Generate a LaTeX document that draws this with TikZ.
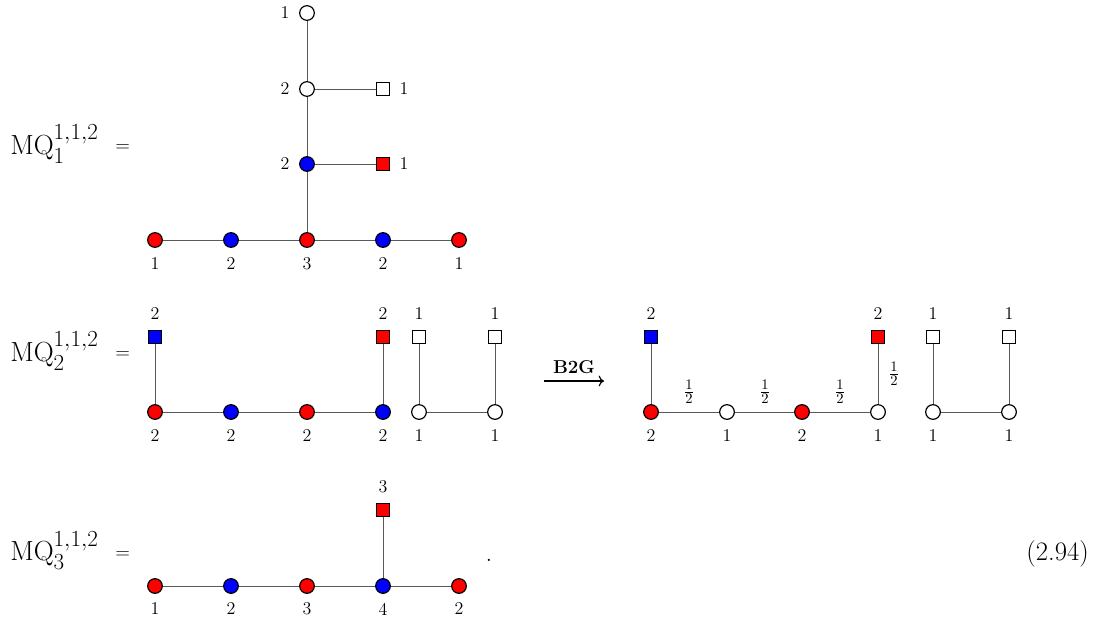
\documentclass[tikz,border=0pt]{standalone}
\usepackage{amsmath}
\usetikzlibrary{arrows.meta}
\DeclareMathSizes{22}{22}{17}{12}
\begin{document}
\begin{tikzpicture}[x=0.75pt,y=-0.75pt,
 rc/.style={circle,draw,line width=0.9pt,fill=red,minimum size=11pt,inner sep=0pt},
 bc/.style={rc,fill=blue},
 wc/.style={rc,fill=white},
 rs/.style={rectangle,draw,line width=0.9pt,fill=red,minimum size=9.5pt,inner sep=0pt},
 bs/.style={rs,fill=blue},
 ws/.style={rs,fill=white},
 lab/.style={font=\fontsize{13.5}{16}\selectfont,inner sep=0pt},
 frac/.style={font=\fontsize{15.5}{18}\selectfont,inner sep=0pt},
 ed/.style={draw=black!65,line width=0.7pt},
 eqlab/.style={font=\fontsize{22}{26}\selectfont,inner sep=0pt,anchor=base west},
 eqsign/.style={font=\fontsize{14.5}{17}\selectfont,inner sep=0pt,anchor=base west},
]
\useasboundingbox (0,0) rectangle (1102,621);

% ---------- MQ1 ----------
\node[eqlab] (t1) at (10,154) {$\mathrm{MQ}^{1,1,2}_{1}$};
\node[eqsign] (s1) at (115,151) {$=$};
\node[rc] (a1) at (155,240) {};
\node[bc] (a2) at (231,240) {};
\node[rc] (a3) at (307,240) {};
\node[bc] (a4) at (383,240) {};
\node[rc] (a5) at (459,240) {};
\node[bc] (a6) at (307,164) {};
\node[wc] (a7) at (307,89) {};
\node[wc] (a8) at (307,13) {};
\node[rs] (a9) at (383,164) {};
\node[ws] (a10) at (383,89) {};
\draw[ed] (a1)--(a2) (a2)--(a3) (a3)--(a4) (a4)--(a5) (a3)--(a6) (a6)--(a7) (a7)--(a8) (a6)--(a9) (a7)--(a10);
\node[lab] (la1) at (155,264) {1};
\node[lab] (la2) at (231,264) {2};
\node[lab] (la3) at (307,264) {3};
\node[lab] (la4) at (383,264) {2};
\node[lab] (la5) at (459,264) {1};
\node[lab] (la6) at (285,164) {2};
\node[lab] (la7) at (285,89) {2};
\node[lab] (la8) at (285,13) {1};
\node[lab] (la9) at (404,164) {1};
\node[lab] (la10) at (404,89) {1};

% ---------- MQ2 ----------
\node[eqlab] (t2) at (10,361) {$\mathrm{MQ}^{1,1,2}_{2}$};
\node[eqsign] (s2) at (115,358) {$=$};
\node[rc] (b1) at (155,412) {};
\node[bc] (b2) at (231,412) {};
\node[rc] (b3) at (307,412) {};
\node[bc] (b4) at (383,412) {};
\node[bs] (b5) at (155,337) {};
\node[rs] (b6) at (383,337) {};
\node[wc] (b7) at (419,412) {};
\node[ws] (b8) at (419,337) {};
\node[wc] (b9) at (495,412) {};
\node[ws] (b10) at (495,337) {};
\draw[ed] (b1)--(b2) (b2)--(b3) (b3)--(b4) (b1)--(b5) (b4)--(b6) (b7)--(b8) (b7)--(b9) (b9)--(b10);
\node[lab] (lb1) at (155,436) {2};
\node[lab] (lb2) at (231,436) {2};
\node[lab] (lb3) at (307,436) {2};
\node[lab] (lb4) at (383,436) {2};
\node[lab] (lb5) at (155,314) {2};
\node[lab] (lb6) at (383,314) {2};
\node[lab] (lb7) at (419,436) {1};
\node[lab] (lb8) at (419,314) {1};
\node[lab] (lb9) at (495,436) {1};
\node[lab] (lb10) at (495,314) {1};

% arrow
\coordinate (arA) at (544,381);
\coordinate (arB) at (604,381);
\draw[line width=0.9pt,-{To[length=4pt,width=8pt]}] (arA) -- (arB) node[midway,above=5pt,inner sep=0pt,font=\fontsize{14}{16}\selectfont\bfseries] (b2g) {B2G};

\node[rc] (c1) at (651,412) {};
\node[wc] (c2) at (727,412) {};
\node[rc] (c3) at (802,412) {};
\node[wc] (c4) at (878,412) {};
\node[bs] (c5) at (651,337) {};
\node[rs] (c6) at (878,337) {};
\node[wc] (c7) at (933,412) {};
\node[ws] (c8) at (933,337) {};
\node[wc] (c9) at (1009,412) {};
\node[ws] (c10) at (1009,337) {};
\draw[ed] (c1)--(c2) (c2)--(c3) (c3)--(c4) (c1)--(c5) (c4)--(c6) (c7)--(c8) (c7)--(c9) (c9)--(c10);
\node[lab] (lc1) at (651,436) {2};
\node[lab] (lc2) at (727,436) {1};
\node[lab] (lc3) at (802,436) {2};
\node[lab] (lc4) at (878,436) {1};
\node[lab] (lc5) at (651,314) {2};
\node[lab] (lc6) at (878,314) {2};
\node[lab] (lc7) at (933,436) {1};
\node[lab] (lc8) at (933,314) {1};
\node[lab] (lc9) at (1009,436) {1};
\node[lab] (lc10) at (1009,314) {1};
\node[frac] (f1) at (689,392) {$\frac{1}{2}$};
\node[frac] (f2) at (765,392) {$\frac{1}{2}$};
\node[frac] (f3) at (840,392) {$\frac{1}{2}$};
\node[frac] (f4) at (894,374) {$\frac{1}{2}$};

% ---------- MQ3 ----------
\node[eqlab] (t3) at (10,560) {$\mathrm{MQ}^{1,1,2}_{3}$};
\node[eqsign] (s3) at (115,558) {$=$};
\node[rc] (d1) at (155,586) {};
\node[bc] (d2) at (231,586) {};
\node[rc] (d3) at (307,586) {};
\node[bc] (d4) at (383,586) {};
\node[rc] (d5) at (459,586) {};
\node[rs] (d6) at (383,510) {};
\draw[ed] (d1)--(d2) (d2)--(d3) (d3)--(d4) (d4)--(d5) (d4)--(d6);
\node[lab] (ld1) at (155,609) {1};
\node[lab] (ld2) at (231,609) {2};
\node[lab] (ld3) at (307,609) {3};
\node[lab] (ld4) at (383,609) {4};
\node[lab] (ld5) at (459,609) {2};
\node[lab] (ld6) at (383,487) {3};
\node[font=\fontsize{20}{24}\selectfont,inner sep=0pt,anchor=base] (dot) at (489,561) {.};
\node[font=\fontsize{20}{24}\selectfont,inner sep=0pt,anchor=base east] (eqn) at (1089,560) {(2.94)};
\end{tikzpicture}
\end{document}
